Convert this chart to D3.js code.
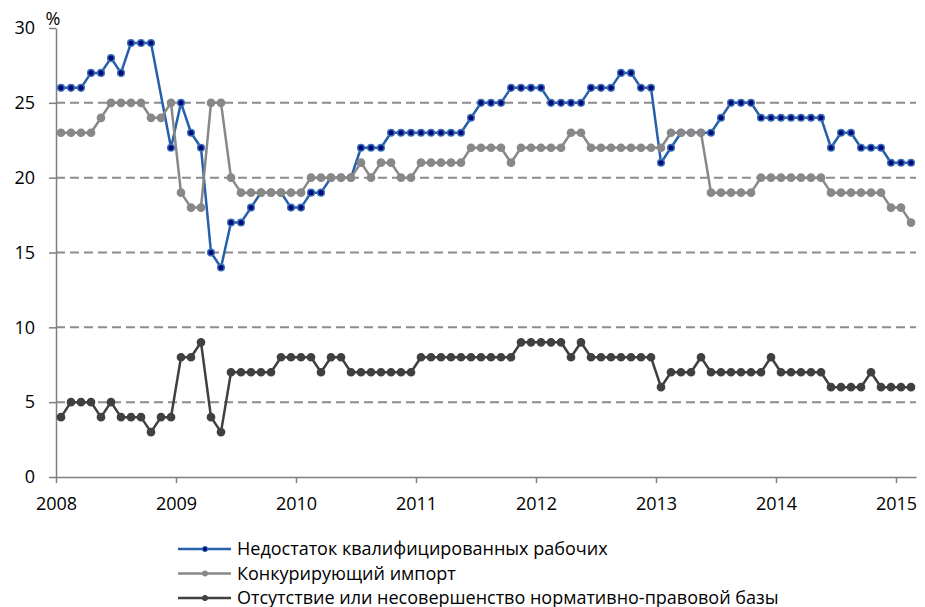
<!DOCTYPE html>
<html>
<head>
<meta charset="utf-8">
<script src="https://cdn.jsdelivr.net/npm/d3@7"></script>
<style>
  body { margin: 0; background: #fff; }
  svg { display: block; font-family: "Open Sans", sans-serif; }
</style>
</head>
<body>
<svg width="925" height="607"></svg>
<script>
// monthly survey, Jan 2008 .. Feb 2015
var yearLabels = ["2008", "2009", "2010", "2011", "2012", "2013", "2014", "2015"];
var yTicks = [0, 5, 10, 15, 20, 25, 30];
var seriesNames = [
  "Недостаток квалифицированных рабочих",
  "Конкурирующий импорт",
  "Отсутствие или несовершенство нормативно-правовой базы"
];

var skilled = [
  26, 26, 26, 27, 27, 28, 27, 29, 29, 29,
  null, 22, 25, 23, 22, 15, 14, 17, 17, 18,
  19, 19, 19, 18, 18, 19, 19, 20, 20, 20,
  22, 22, 22, 23, 23, 23, 23, 23, 23, 23,
  23, 24, 25, 25, 25, 26, 26, 26, 26, 25,
  25, 25, 25, 26, 26, 26, 27, 27, 26, 26,
  21, 22, 23, 23, 23, 23, 24, 25, 25, 25,
  24, 24, 24, 24, 24, 24, 24, 22, 23, 23,
  22, 22, 22, 21, 21, 21
];
var imports = [
  23, 23, 23, 23, 24, 25, 25, 25, 25, 24,
  24, 25, 19, 18, 18, 25, 25, 20, 19, 19,
  19, 19, 19, 19, 19, 20, 20, 20, 20, 20,
  21, 20, 21, 21, 20, 20, 21, 21, 21, 21,
  21, 22, 22, 22, 22, 21, 22, 22, 22, 22,
  22, 23, 23, 22, 22, 22, 22, 22, 22, 22,
  22, 23, 23, 23, 23, 19, 19, 19, 19, 19,
  20, 20, 20, 20, 20, 20, 20, 19, 19, 19,
  19, 19, 19, 18, 18, 17
];
var legal = [
  4, 5, 5, 5, 4, 5, 4, 4, 4, 3,
  4, 4, 8, 8, 9, 4, 3, 7, 7, 7,
  7, 7, 8, 8, 8, 8, 7, 8, 8, 7,
  7, 7, 7, 7, 7, 7, 8, 8, 8, 8,
  8, 8, 8, 8, 8, 8, 9, 9, 9, 9,
  9, 8, 9, 8, 8, 8, 8, 8, 8, 8,
  6, 7, 7, 7, 8, 7, 7, 7, 7, 7,
  7, 8, 7, 7, 7, 7, 7, 6, 6, 6,
  6, 7, 6, 6, 6, 6
];

var svg = d3.select("svg");
var margin = { left: 56, right: 916, top: 28, bottom: 477 };
var nMonths = skilled.length;

var x = d3.scaleLinear().domain([0, nMonths]).range([margin.left, margin.right]);
var y = d3.scaleLinear().domain([0, 30]).range([margin.bottom, margin.top]);

// dashed grid
svg.append("g")
  .selectAll("line")
  .data(yTicks.filter(function(d) { return d > 0 && d < 30; }))
  .join("line")
  .attr("x1", margin.left).attr("x2", margin.right)
  .attr("y1", function(d) { return y(d); })
  .attr("y2", function(d) { return y(d); })
  .attr("stroke", "#8c8c8c")
  .attr("stroke-width", 2)
  .attr("stroke-dasharray", "9,5");

// y axis
var yAxis = svg.append("g")
  .attr("transform", "translate(" + margin.left + ",0)")
  .call(d3.axisLeft(y).tickValues(yTicks).tickSize(7).tickSizeOuter(0).tickPadding(14));

// x axis, a tick every 12 months
var xAxis = svg.append("g")
  .attr("transform", "translate(0," + margin.bottom + ")")
  .call(d3.axisBottom(x)
    .tickValues(yearLabels.map(function(d, i) { return i * 12; }))
    .tickFormat(function(d) { return yearLabels[d / 12]; })
    .tickSize(6).tickSizeOuter(0).tickPadding(14));

[yAxis, xAxis].forEach(function(a) {
  a.select(".domain").attr("stroke", "#7f7f7f").attr("stroke-width", 1.5);
  a.selectAll(".tick line").attr("stroke", "#7f7f7f").attr("stroke-width", 1.5);
  a.selectAll(".tick text").attr("fill", "#000").style("font-size", "18px")
    .style("font-family", "'Open Sans', sans-serif");
});

svg.append("text")
  .attr("x", 53).attr("y", 25)
  .attr("text-anchor", "middle")
  .style("font-size", "18px")
  .text("%");

var series = [
  { name: seriesNames[0], values: skilled, line: "#2560a9", fill: "#00087a", ring: "#3a70b8", r: 3.3 },
  { name: seriesNames[1], values: imports, line: "#888888", fill: "#888888", ring: "#888888", r: 3.6 },
  { name: seriesNames[2], values: legal, line: "#404040", fill: "#404040", ring: "#404040", r: 3.6 }
];

var line = d3.line()
  .x(function(d) { return x(d.i + 0.5); })
  .y(function(d) { return y(d.v); });

series.forEach(function(s) {
  var pts = s.values
    .map(function(v, i) { return { i: i, v: v }; })
    .filter(function(d) { return d.v !== null; });

  svg.append("path")
    .datum(pts)
    .attr("fill", "none")
    .attr("stroke", s.line)
    .attr("stroke-width", 2.5)
    .attr("stroke-linejoin", "round")
    .attr("d", line);

  svg.append("g")
    .selectAll("circle")
    .data(pts)
    .join("circle")
    .attr("cx", function(d) { return x(d.i + 0.5); })
    .attr("cy", function(d) { return y(d.v); })
    .attr("r", s.r)
    .attr("fill", s.fill)
    .attr("stroke", s.ring)
    .attr("stroke-width", 1.5);
});

// legend
var legend = svg.append("g").attr("transform", "translate(178,549)");
var row = legend.selectAll("g")
  .data(series)
  .join("g")
  .attr("transform", function(d, i) { return "translate(0," + (i * 24.5) + ")"; });

row.append("line")
  .attr("x1", 0).attr("x2", 53)
  .attr("stroke", function(d) { return d.line; })
  .attr("stroke-width", 2.5);

row.append("circle")
  .attr("cx", 27).attr("r", 2.6)
  .attr("fill", function(d) { return d.fill; })
  .attr("stroke", function(d) { return d.ring; })
  .attr("stroke-width", 1);

row.append("text")
  .attr("x", 59).attr("dy", "0.35em")
  .style("font-size", "18px")
  .text(function(d) { return d.name; });
</script>
</body>
</html>
